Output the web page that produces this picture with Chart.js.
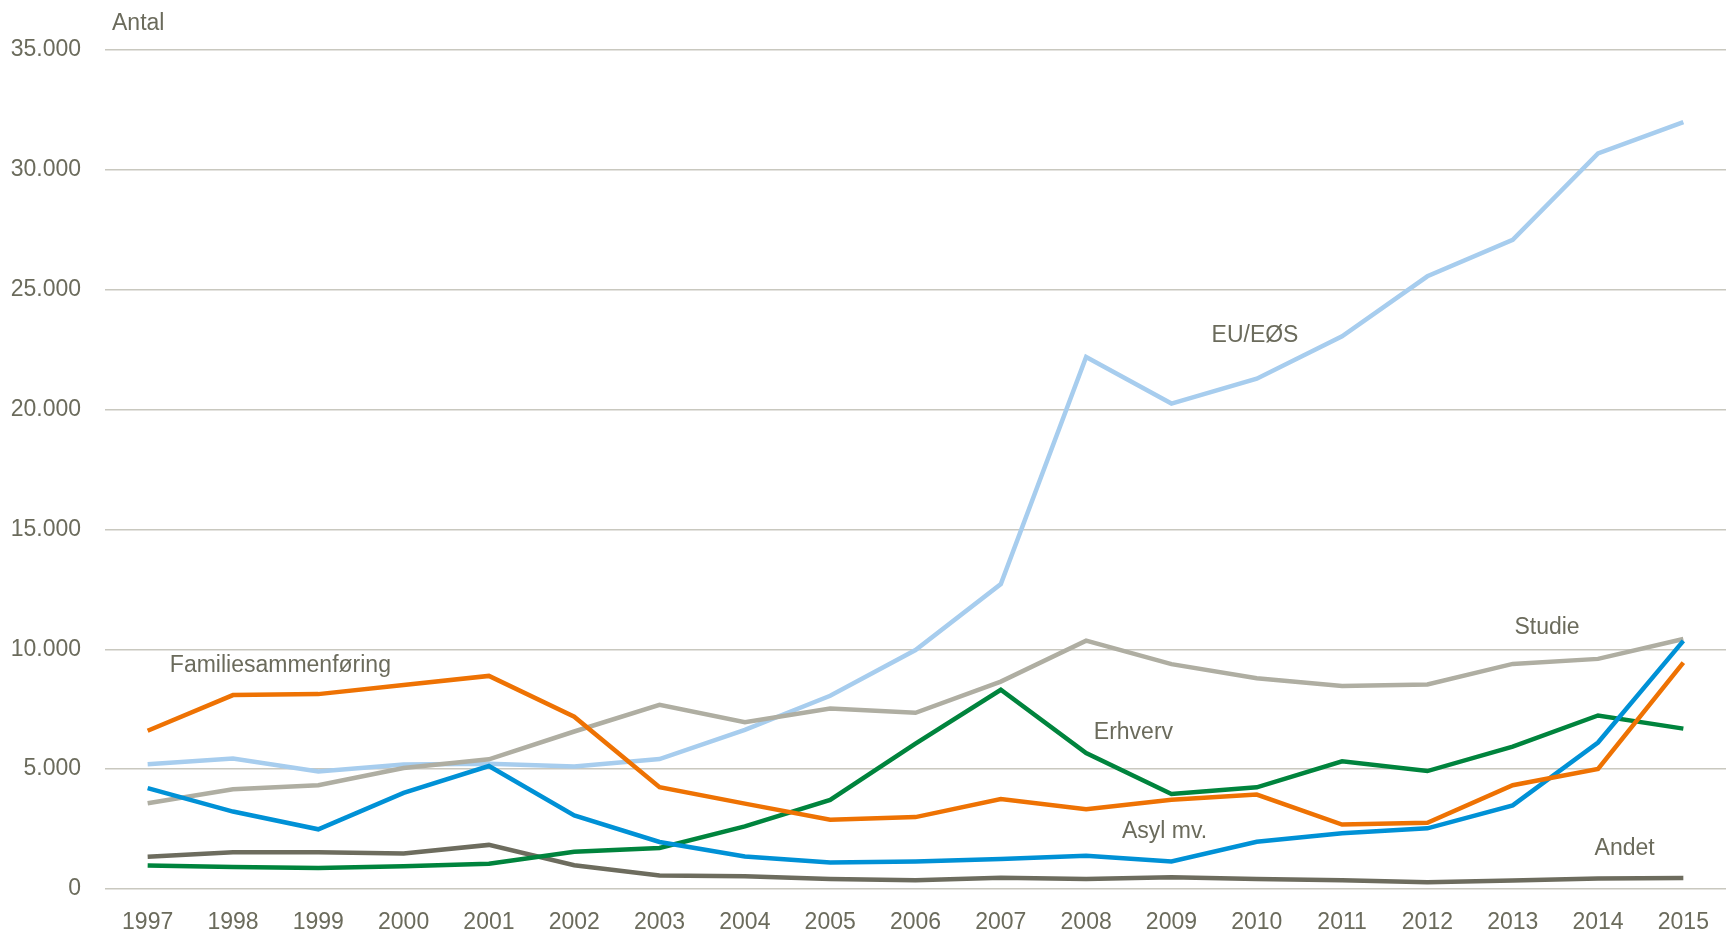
<!DOCTYPE html>
<html>
<head>
<meta charset="utf-8">
<script src="https://cdn.jsdelivr.net/npm/chart.js@4/dist/chart.umd.min.js"></script>
<style>
  html, body { margin: 0; padding: 0; background: #fff; }
  #wrap { width: 1728px; height: 935px; position: relative; }
</style>
</head>
<body>
<div id="wrap"><canvas id="myChart"></canvas></div>
<script>
// data
const years = ['1997', '1998', '1999', '2000', '2001', '2002', '2003', '2004', '2005', '2006',
  '2007', '2008', '2009', '2010', '2011', '2012', '2013', '2014', '2015'];

const familie = [6600, 8090, 8130, 8510, 8890, 7190, 4250, 3560, 2890, 3000,
  3750, 3330, 3720, 3940, 2690, 2760, 4330, 5010, 9440];
const asyl = [4210, 3230, 2490, 4010, 5130, 3070, 1960, 1360, 1110, 1150,
  1250, 1390, 1150, 1970, 2330, 2530, 3490, 6110, 10350];
const erhverv = [980, 920, 880, 950, 1050, 1550, 1710, 2610, 3720, 6060,
  8310, 5670, 3960, 4240, 5330, 4920, 5940, 7240, 6690];
const studie = [3580, 4160, 4330, 5050, 5410, 6570, 7680, 6960, 7530, 7350,
  8650, 10360, 9380, 8790, 8470, 8530, 9390, 9600, 10430];
const euEos = [5200, 5440, 4900, 5190, 5230, 5110, 5420, 6640, 8060, 9970,
  12720, 22190, 20250, 21290, 23060, 25560, 27080, 30690, 31990];
const andet = [1350, 1530, 1530, 1480, 1840, 990, 560, 530, 420, 360,
  470, 420, 490, 420, 360, 280, 350, 440, 460];

const yTicks = [0, 5000, 10000, 15000, 20000, 25000, 30000, 35000];

// series labels placed in data space (category index, value)
const seriesLabels = [
  { text: 'Familiesammenføring', idx: 0.26, val: 9310 },
  { text: 'EU/EØS', idx: 12.47, val: 23100 },
  { text: 'Studie', idx: 16.02, val: 10890 },
  { text: 'Erhverv', idx: 11.09, val: 6520 },
  { text: 'Asyl mv.', idx: 11.42, val: 2390 },
  { text: 'Andet', idx: 16.96, val: 1680 },
];

const FONT = "'Liberation Sans Narrow', 'Liberation Sans', Arial, sans-serif";
const TEXT = '#6b6b5c';

const fmt = (v) => String(v).replace(/\B(?=(\d{3})+(?!\d))/g, '.');

// draws the line names and the "Antal" axis caption
const labelPlugin = {
  id: 'seriesLabels',
  afterDraw(chart) {
    const { ctx, scales, chartArea } = chart;
    ctx.save();
    ctx.font = `23px ${FONT}`;
    ctx.fillStyle = TEXT;
    ctx.textAlign = 'left';
    ctx.textBaseline = 'middle';
    seriesLabels.forEach((l) => {
      ctx.fillText(l.text, scales.x.getPixelForValue(l.idx), scales.y.getPixelForValue(l.val));
    });
    ctx.fillText('Antal', chartArea.left + 7, chartArea.top - 26);
    ctx.restore();
  },
};

const line = (label, data, color) => ({
  label,
  data,
  borderColor: color,
  backgroundColor: color,
  borderWidth: 4.5,
  pointRadius: 0,
  tension: 0,
  fill: false,
});

let ctx = document.getElementById('myChart').getContext('2d');

new Chart(ctx, {
  type: 'line',
  data: {
    labels: years,
    datasets: [
      line('Familiesammenføring', familie, '#ee7203'),
      line('Asyl mv.', asyl, '#0091d6'),
      line('Erhverv', erhverv, '#00843d'),
      line('Studie', studie, '#afaea2'),
      line('EU/EØS', euEos, '#a7cdee'),
      line('Andet', andet, '#6d6c5e'),
    ],
  },
  options: {
    responsive: true,
    maintainAspectRatio: false,
    animation: false,
    layout: { padding: { top: 50, right: 2, bottom: 0, left: 0 } },
    plugins: {
      legend: { display: false },
      tooltip: { enabled: false },
    },
    scales: {
      x: {
        offset: true,
        grid: { display: false },
        border: { display: false },
        afterFit: (scale) => { scale.height = 46; },
        ticks: {
          color: TEXT,
          font: { family: FONT, size: 23 },
          padding: 12,
          autoSkip: false,
          maxRotation: 0,
        },
      },
      y: {
        min: 0,
        max: 35000,
        afterFit: (scale) => { scale.width = 105; },
        afterBuildTicks: (scale) => { scale.ticks = yTicks.map((v) => ({ value: v })); },
        grid: { color: '#c9c8bf', lineWidth: 1.5, drawTicks: false },
        border: { display: false },
        ticks: {
          color: TEXT,
          font: { family: FONT, size: 23 },
          padding: 24,
          callback: (v) => fmt(v),
        },
      },
    },
  },
  plugins: [labelPlugin],
});
</script>
</body>
</html>
